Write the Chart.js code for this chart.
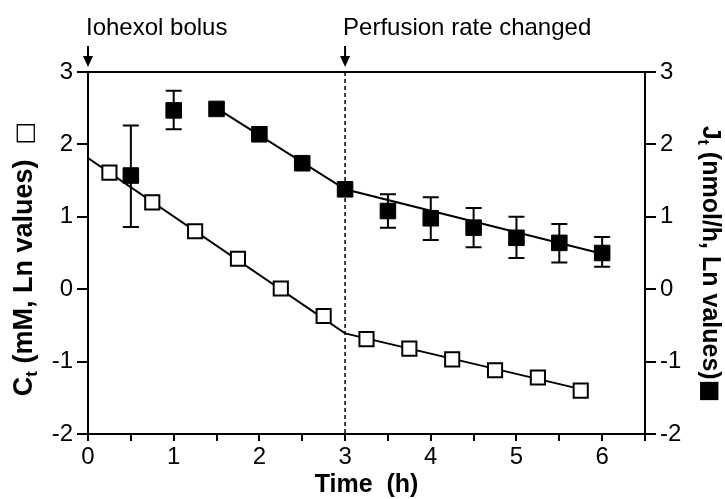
<!DOCTYPE html>
<html>
<head>
<meta charset="utf-8">
<script src="https://cdn.jsdelivr.net/npm/chart.js@4.4.1/dist/chart.umd.min.js"></script>
<style>
  html, body { margin: 0; padding: 0; background: #fff; }
  #wrap { width: 725px; height: 499px; }
</style>
</head>
<body>
<div id="wrap"><canvas id="myChart" width="725" height="499"></canvas></div>
<script>
// values (Ln values)
const ctTime = [0.25, 0.75, 1.25, 1.75, 2.25, 2.75, 3.25, 3.75, 4.25, 4.75, 5.25, 5.75];
const ctValues = [1.61, 1.20, 0.80, 0.42, 0.01, -0.37, -0.69, -0.82, -0.97, -1.12, -1.22, -1.40];
const jtTime = [0.5, 1, 1.5, 2, 2.5, 3, 3.5, 4, 4.5, 5, 5.5, 6];
const jtValues = [1.57, 2.47, 2.49, 2.14, 1.74, 1.38, 1.08, 0.98, 0.85, 0.71, 0.64, 0.50];
const jtErrLow = [0.86, 2.21, null, null, null, null, 0.85, 0.68, 0.58, 0.43, 0.37, 0.31];
const jtErrHigh = [2.26, 2.74, null, null, null, null, 1.31, 1.27, 1.12, 1.00, 0.90, 0.72];

// fitted lines
const ctFitTime = [0, 3, 5.75];
const ctFitValues = [1.81, -0.61, -1.38];
const jtFitTime = [1.5, 3, 6];
const jtFitValues = [2.50, 1.38, 0.49];

// events marked above the plot
const eventTimes = [0, 3];
const eventLabels = ['Iohexol bolus', 'Perfusion rate changed'];

// tick labels
const xTickLabels = [0, 1, 2, 3, 4, 5, 6];
const yTickLabels = [-2, -1, 0, 1, 2, 3];

const FONT = "'Liberation Sans', Arial, Helvetica, sans-serif";
Chart.defaults.font.family = FONT;
Chart.defaults.color = '#000';

const pts = (xs, ys) => xs.map((x, i) => ({ x: x, y: ys[i] }));

// draws a line of text made of pieces with different fonts (for subscripts)
function drawRich(ctx, parts, cx, cy, angle) {
  ctx.save();
  ctx.translate(cx, cy);
  ctx.rotate(angle);
  ctx.textBaseline = 'alphabetic';
  ctx.textAlign = 'left';
  let total = 0;
  parts.forEach(p => { ctx.font = p.font; total += ctx.measureText(p.text).width; });
  let x = -total / 2;
  parts.forEach(p => {
    ctx.font = p.font;
    ctx.fillText(p.text, x, p.dy || 0);
    x += ctx.measureText(p.text).width;
  });
  ctx.restore();
}

const figureExtras = {
  id: 'figureExtras',
  beforeDatasetsDraw(chart) {
    const { ctx, chartArea, scales: { x, y2 } } = chart;
    ctx.save();
    ctx.strokeStyle = '#000';
    // dashed line where perfusion rate changed
    ctx.lineWidth = 1.5;
    ctx.setLineDash([4, 3]);
    const dx = x.getPixelForValue(eventTimes[1]);
    ctx.beginPath();
    ctx.moveTo(dx, chartArea.top);
    ctx.lineTo(dx, chartArea.bottom);
    ctx.stroke();
    ctx.setLineDash([]);
    // error bars
    ctx.lineWidth = 2;
    jtTime.forEach((t, i) => {
      if (jtErrLow[i] == null) return;
      const px = x.getPixelForValue(t);
      const lo = y2.getPixelForValue(jtErrLow[i]);
      const hi = y2.getPixelForValue(jtErrHigh[i]);
      ctx.beginPath();
      ctx.moveTo(px, lo); ctx.lineTo(px, hi);
      ctx.moveTo(px - 8, lo); ctx.lineTo(px + 8, lo);
      ctx.moveTo(px - 8, hi); ctx.lineTo(px + 8, hi);
      ctx.stroke();
    });
    ctx.restore();
  },
  afterDraw(chart) {
    const { ctx, chartArea, scales: { x } } = chart;
    ctx.save();
    ctx.fillStyle = '#000';
    ctx.strokeStyle = '#000';
    ctx.lineWidth = 2;
    // arrows and labels for events
    eventTimes.forEach((t, i) => {
      const px = x.getPixelForValue(t);
      const top = chartArea.top;
      ctx.beginPath();
      ctx.moveTo(px, top - 26);
      ctx.lineTo(px, top - 14);
      ctx.stroke();
      ctx.beginPath();
      ctx.moveTo(px - 5, top - 16);
      ctx.lineTo(px + 5, top - 16);
      ctx.lineTo(px, top - 5);
      ctx.closePath();
      ctx.fill();
      ctx.font = '24px ' + FONT;
      ctx.textAlign = 'left';
      ctx.textBaseline = 'alphabetic';
      ctx.fillText(eventLabels[i], px - 2, 35);
    });
    ctx.restore();

    // axis titles
    const big = 'bold 25px ' + FONT;
    const sub = 'bold 16px ' + FONT;
    drawRich(ctx, [
      { text: 'C', font: 'bold 27px ' + FONT },
      { text: 't', font: 'bold 17px ' + FONT, dy: 5 },
      { text: ' (mM, Ln values)  ', font: 'bold 27px ' + FONT },
      { text: '\u25A1', font: "24px 'DejaVu Sans', sans-serif" }
    ], 32, 259, -Math.PI / 2);
    drawRich(ctx, [
      { text: 'J', font: big },
      { text: 't', font: sub, dy: 5 },
      { text: ' (nmol/h, Ln values)', font: big },
      { text: '\u25A0', font: "24px 'DejaVu Sans', sans-serif" }
    ], 703, 264, Math.PI / 2);
    ctx.save();
    ctx.font = 'bold 25px ' + FONT;
    ctx.textAlign = 'center';
    ctx.textBaseline = 'alphabetic';
    ctx.fillStyle = '#000';
    ctx.fillText('Time  (h)', (chartArea.left + chartArea.right) / 2, 492);
    ctx.restore();
  }
};

const yAxis = (position) => ({
  type: 'linear',
  position: position,
  min: -2,
  max: 3,
  afterBuildTicks: s => { s.ticks = yTickLabels.map(v => ({ value: v })); },
  ticks: { font: { size: 24 }, color: '#000', padding: 4 },
  grid: { display: true, drawOnChartArea: false, drawTicks: true, tickLength: 11, color: '#000', lineWidth: 2 },
  border: { display: true, color: '#000', width: 2 },
  afterFit: s => { s.width = 45; }
});

new Chart(document.getElementById('myChart').getContext('2d'), {
  type: 'scatter',
  data: {
    datasets: [
      {
        label: 'Ct',
        data: pts(ctTime, ctValues),
        yAxisID: 'y',
        pointStyle: 'rect',
        pointRadius: 10,
        borderWidth: 2,
        borderColor: '#000',
        backgroundColor: '#fff',
        order: 1
      },
      {
        label: 'Jt',
        data: pts(jtTime, jtValues),
        yAxisID: 'y2',
        pointStyle: 'rect',
        pointRadius: 11,
        borderWidth: 1,
        borderColor: '#000',
        backgroundColor: '#000',
        order: 2
      },
      {
        label: 'Ct fit',
        data: pts(ctFitTime, ctFitValues),
        yAxisID: 'y',
        showLine: true,
        pointRadius: 0,
        borderWidth: 2,
        borderColor: '#000',
        tension: 0,
        order: 3
      },
      {
        label: 'Jt fit',
        data: pts(jtFitTime, jtFitValues),
        yAxisID: 'y2',
        showLine: true,
        pointRadius: 0,
        borderWidth: 2,
        borderColor: '#000',
        tension: 0,
        order: 4
      }
    ]
  },
  options: {
    responsive: false,
    animation: false,
    devicePixelRatio: 1,
    layout: { padding: { left: 43, right: 35, top: 72, bottom: 25 } },
    plugins: { legend: { display: false }, tooltip: { enabled: false } },
    scales: {
      x: {
        type: 'linear',
        position: 'bottom',
        min: 0,
        max: 6.5,
        ticks: {
          stepSize: 0.5,
          autoSkip: false,
          maxRotation: 0,
          font: { size: 24 },
          color: '#000',
          padding: 2,
          callback: v => xTickLabels.includes(v) ? String(v) : ''
        },
        grid: { display: true, drawOnChartArea: false, drawTicks: true, tickLength: 7, color: '#000', lineWidth: 2 },
        border: { display: true, color: '#000', width: 2 },
        afterFit: s => { s.height = 40; }
      },
      xTop: {
        type: 'linear',
        position: 'top',
        min: 0,
        max: 6.5,
        ticks: { display: false },
        grid: { display: false, drawTicks: false },
        border: { display: true, color: '#000', width: 2 },
        afterFit: s => { s.height = 0; }
      },
      y: yAxis('left'),
      y2: yAxis('right')
    }
  },
  plugins: [figureExtras]
});
</script>
</body>
</html>
